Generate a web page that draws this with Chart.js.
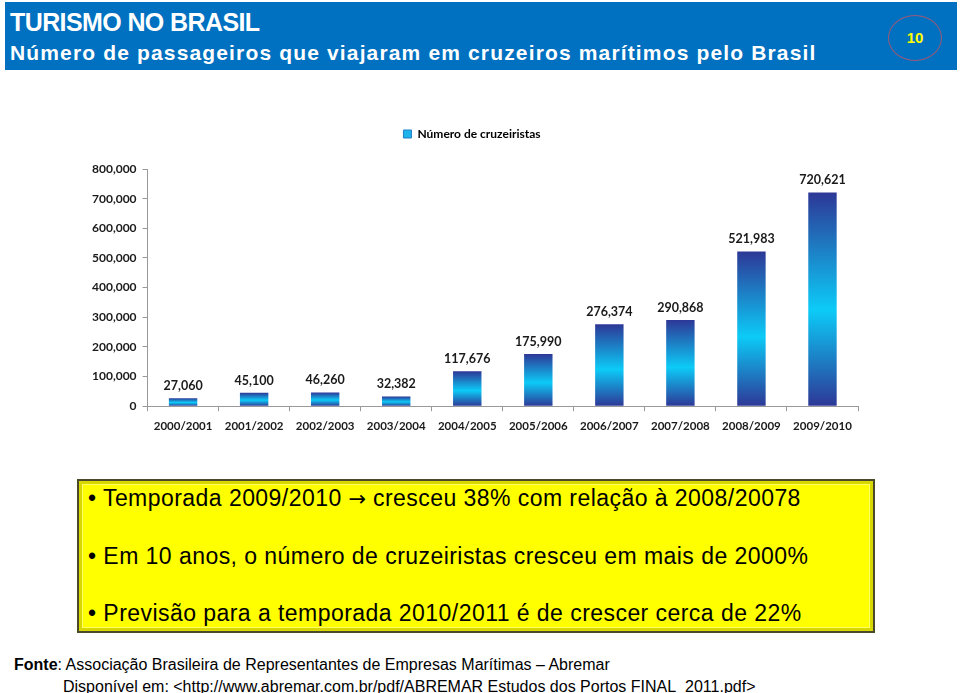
<!DOCTYPE html>
<html>
<head>
<meta charset="utf-8">
<script src="https://cdn.jsdelivr.net/npm/chart.js@4"></script>
<style>
  body { margin: 0; width: 960px; height: 693px; background: #fff; position: relative; overflow: hidden; font-family: "Liberation Sans", Arial, sans-serif; }
  #header { position: absolute; left: 5px; top: 2px; width: 952px; height: 68px; background: #0070c0; color: #fff; }
  #header .t1 { position: absolute; left: 5px; top: 6px; font-size: 25px; font-weight: bold; letter-spacing: -0.6px; white-space: nowrap; }
  #header .t2 { position: absolute; left: 5px; top: 39px; font-size: 21px; font-weight: bold; letter-spacing: 1.15px; white-space: nowrap; }
  #page { position: absolute; left: 888px; top: 15px; width: 52px; height: 44px; border: 1.5px solid #9a5a78; border-radius: 50%; color: #ffff00; font-weight: bold; font-size: 15px; text-align: center; line-height: 44px; }
  #wrap { position: absolute; left: 80px; top: 88px; width: 800px; height: 359px; }
  #box { position: absolute; left: 77px; top: 479px; width: 794px; height: 150px; background: #ffff00; border: 2px solid #4a4a2a; box-shadow: inset 0 0 0 3px #d8d800, inset 0 0 0 4px #ffff60; }
  #box p { margin: 0; position: absolute; left: 9px; font-size: 23px; letter-spacing: 0.45px; color: #000; white-space: nowrap; }
  #box .seta { font-family: "DejaVu Sans", sans-serif; font-size: 21px; letter-spacing: 0; }
  #foot { position: absolute; left: 14px; top: 654px; font-size: 16px; color: #000; line-height: 22px; white-space: nowrap; }
</style>
</head>
<body>
<div id="header">
  <div class="t1">TURISMO NO BRASIL</div>
  <div class="t2">Número de passageiros que viajaram em cruzeiros marítimos pelo Brasil</div>
</div>
<div id="page">10</div>
<div id="wrap"><canvas id="cruiseChart"></canvas></div>
<div id="box">
  <p style="top:4px">• Temporada 2009/2010 <span class="seta">→</span> cresceu 38% com relação à 2008/20078</p>
  <p style="top:62px">• Em 10 anos, o número de cruzeiristas cresceu em mais de 2000%</p>
  <p style="top:119px">• Previsão para a temporada 2010/2011 é de crescer cerca de 22%</p>
</div>
<div id="foot">
  <b>Fonte</b>: Associação Brasileira de Representantes de Empresas Marítimas – Abremar<br>
  <span style="padding-left:49px">Disponível em: &lt;http://www.abremar.com.br/pdf/ABREMAR Estudos dos Portos FINAL_2011.pdf&gt;</span>
</div>
<script>
const temporadas = ['2000/2001', '2001/2002', '2002/2003', '2003/2004', '2004/2005', '2005/2006', '2006/2007', '2007/2008', '2008/2009', '2009/2010'];
const cruzeiristas = [27060, 45100, 46260, 32382, 117676, 175990, 276374, 290868, 521983, 720621];
const legenda = 'Número de cruzeiristas';

const chartFont = 'Lato, "Open Sans", sans-serif';
const ctx = document.getElementById('cruiseChart').getContext('2d');

// degrade escuro-ciano-escuro em cada barra
function barGradient(c) {
    const chart = c.chart;
    if (!chart.chartArea) return '#1aa8e6';
    const y = chart.scales.y;
    const top = y.getPixelForValue(c.raw);
    const bot = y.getPixelForValue(0);
    const g = chart.ctx.createLinearGradient(0, top, 0, bot);
    g.addColorStop(0, '#2d3796');
    g.addColorStop(0.55, '#0ccbf7');
    g.addColorStop(1, '#2d3796');
    return g;
}

// rotulos de valor acima das barras
const valueLabels = {
    id: 'valueLabels',
    afterDatasetsDraw(chart) {
        const c = chart.ctx;
        const meta = chart.getDatasetMeta(0);
        c.save();
        c.font = 'bold 12.5px ' + chartFont;
        c.fillStyle = '#1a1a1a';
        c.textAlign = 'center';
        c.textBaseline = 'bottom';
        meta.data.forEach((bar, i) => {
            c.fillText(cruzeiristas[i].toLocaleString('en-US'), bar.x, bar.y - 6);
        });
        c.restore();
    }
};

// espaco extra abaixo da legenda
const legendGap = {
    id: 'legendGap',
    beforeInit(chart) {
        const fit = chart.legend.fit;
        chart.legend.fit = function () {
            fit.bind(chart.legend)();
            this.height += 19;
        };
    }
};

new Chart(ctx, {
    type: 'bar',
    data: {
        labels: temporadas,
        datasets: [{
            label: legenda,
            data: cruzeiristas,
            backgroundColor: barGradient,
            barPercentage: 0.8,
            categoryPercentage: 0.5
        }]
    },
    options: {
        responsive: true,
        maintainAspectRatio: false,
        animation: false,
        layout: { padding: { left: 6, right: 22, top: 6, bottom: 6 } },
        plugins: {
            legend: {
                position: 'top',
                labels: {
                    boxWidth: 8,
                    boxHeight: 8,
                    padding: 34,
                    color: '#1a1a1a',
                    font: { family: chartFont, weight: 'bold', size: 12 },
                    generateLabels: () => [{ text: legenda, fillStyle: '#1eb4ea', strokeStyle: '#1e7fc8', lineWidth: 1 }]
                }
            },
            tooltip: { enabled: false }
        },
        scales: {
            y: {
                min: 0,
                max: 800000,
                ticks: {
                    stepSize: 100000,
                    color: '#1a1a1a',
                    padding: 6,
                    font: { family: chartFont, weight: 'bold', size: 12 },
                    callback: v => v.toLocaleString('en-US')
                },
                grid: { drawOnChartArea: false, tickLength: 5, color: '#999' },
                border: { color: '#999' }
            },
            x: {
                ticks: {
                    color: '#1a1a1a',
                    padding: 8,
                    font: { family: chartFont, weight: 'bold', size: 11.5 }
                },
                grid: { drawOnChartArea: false, tickLength: 5, color: '#999' },
                border: { color: '#999' }
            }
        }
    },
    plugins: [valueLabels, legendGap]
});
</script>
</body>
</html>
